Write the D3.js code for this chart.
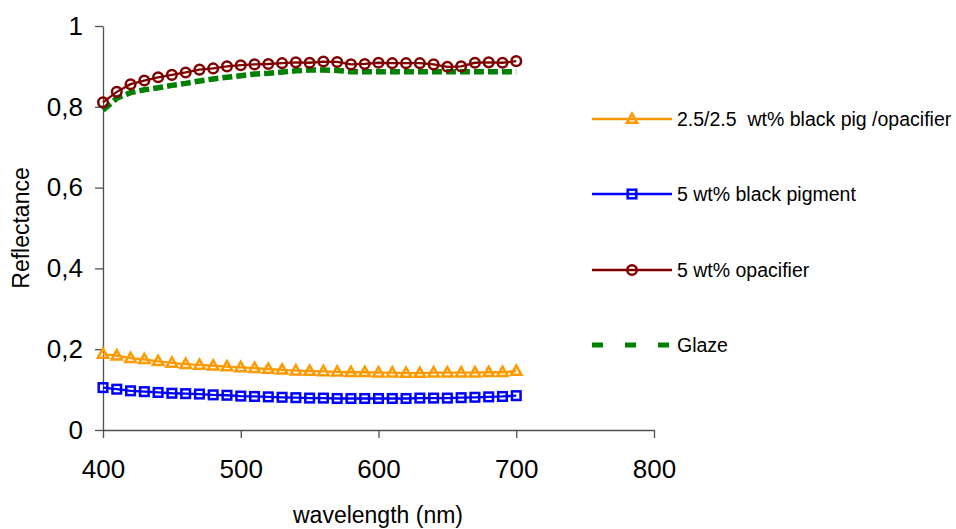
<!DOCTYPE html>
<html lang="en">
<head>
<meta charset="UTF-8">
<title>reflectance</title>
<script src="https://cdn.jsdelivr.net/npm/d3@7"></script>
<style>
    body{ margin:0; background:#fff; }
    svg{ font-family: "Liberation Sans", Arial, sans-serif; }
    .axis path, .axis line{ stroke:#505050; stroke-width:1.3; }
    .axis text{ fill:#000; font-size:26px; }
    .leg{ white-space: pre; }
</style>
</head>
<body>
<svg id="chart" width="956" height="529"></svg>
<script>
    // wavelengths (nm)
    let wavelength = [400,410,420,430,440,450,460,470,480,490,500,510,520,530,540,550,560,570,580,590,600,610,620,630,640,650,660,670,680,690,700]

    let mix = [0.188,0.184,0.178,0.175,0.170,0.166,0.163,0.161,0.159,0.157,0.155,0.153,0.151,0.149,0.147,0.146,0.145,0.144,0.143,0.143,0.142,0.142,0.141,0.141,0.142,0.142,0.142,0.142,0.143,0.143,0.146]
    let black = [0.105,0.101,0.097,0.095,0.093,0.091,0.090,0.089,0.087,0.086,0.084,0.083,0.082,0.081,0.080,0.079,0.079,0.078,0.078,0.078,0.078,0.078,0.078,0.079,0.079,0.079,0.080,0.081,0.082,0.083,0.085]
    let opac = [0.811,0.837,0.856,0.865,0.873,0.879,0.885,0.892,0.895,0.900,0.903,0.905,0.906,0.908,0.910,0.909,0.912,0.911,0.905,0.906,0.909,0.908,0.908,0.908,0.905,0.899,0.900,0.909,0.910,0.909,0.913]
    let glaze = [0.792,0.821,0.835,0.842,0.847,0.853,0.858,0.864,0.869,0.873,0.877,0.881,0.883,0.886,0.889,0.891,0.891,0.890,0.887,0.887,0.887,0.887,0.887,0.887,0.887,0.887,0.887,0.887,0.887,0.887,0.887]

    let names = ["2.5/2.5  wt% black pig /opacifier","5 wt% black pigment","5 wt% opacifier","Glaze"]
    let colors = ["#ff9900","#0000ff","#800000","#008000"]
    let markers = ["triangle","square","circle","none"]

    let xTicks = [400,500,600,700,800]
    let yTicks = [0,0.2,0.4,0.6,0.8,1]

    let svg = d3.select("#chart")
    let x = d3.scaleLinear().domain([400,800]).range([103,654])
    let y = d3.scaleLinear().domain([0,1]).range([430,26])

    // axes
    svg.append("g").attr("class","axis")
        .attr("transform","translate(0,430)")
        .call(d3.axisBottom(x).tickValues(xTicks).tickSize(8).tickSizeOuter(0).tickPadding(22))
    svg.append("g").attr("class","axis")
        .attr("transform","translate(103,0)")
        .call(d3.axisLeft(y).tickValues(yTicks).tickSize(8).tickSizeOuter(0).tickPadding(12)
            .tickFormat(d => String(d).replace(".",",")))

    svg.append("text").attr("x",378).attr("y",523).attr("text-anchor","middle")
        .attr("font-size",23).text("wavelength (nm)")
    svg.append("text").attr("transform","translate(29,228) rotate(-90)").attr("text-anchor","middle")
        .attr("font-size",23).text("Reflectance")

    function marker(g, type, color){
        if(type==="circle"){
            g.append("circle").attr("r",4.8).attr("fill","none").attr("stroke",color).attr("stroke-width",2.5)
        } else if(type==="square"){
            g.append("rect").attr("x",-4.3).attr("y",-4.3).attr("width",8.6).attr("height",8.6)
                .attr("fill","none").attr("stroke",color).attr("stroke-width",2.5)
        } else if(type==="triangle"){
            g.append("path").attr("d","M0,-5.5L5.2,3.8L-5.2,3.8Z")
                .attr("fill","none").attr("stroke",color).attr("stroke-width",2.5)
        }
    }

    let line = d3.line().x((d,i) => x(wavelength[i])).y(d => y(d))

    // glaze first so the markers sit on top
    svg.append("path").datum(glaze).attr("d",line).attr("fill","none")
        .attr("stroke",colors[3]).attr("stroke-width",5.5).attr("stroke-dasharray","10,4")

    let series = [mix, black, opac]
    series.forEach(function(s, k){
        svg.append("path").datum(s).attr("d",line).attr("fill","none")
            .attr("stroke",colors[k]).attr("stroke-width",2.3)
        svg.selectAll(".m"+k).data(s).enter().append("g")
            .attr("class","m"+k)
            .attr("transform",(d,i) => "translate(" + x(wavelength[i]) + "," + y(d) + ")")
            .each(function(){ marker(d3.select(this), markers[k], colors[k]) })
    })

    // legend
    let legY = [119,194,270,345]
    names.forEach(function(n, k){
        let g = svg.append("g").attr("transform","translate(0," + legY[k] + ")")
        if(k===3){
            g.append("line").attr("x1",592).attr("x2",672).attr("stroke",colors[k])
                .attr("stroke-width",5).attr("stroke-dasharray","11,22")
        } else {
            g.append("line").attr("x1",592).attr("x2",672).attr("stroke",colors[k]).attr("stroke-width",2.3)
            let m = g.append("g").attr("transform","translate(632,0)")
            marker(m, markers[k], colors[k])
        }
        g.append("text").attr("class","leg").attr("x",677).attr("dy","0.35em").attr("font-size",19.5).text(n)
    })
</script>
</body>
</html>
